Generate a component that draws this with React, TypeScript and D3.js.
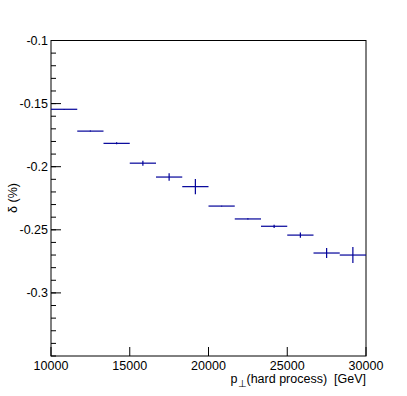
import React from "react";
import * as d3 from "d3";

const binEdgesStart = 10000;
const binWidth = 20000 / 12;
const values = [-0.1545, -0.1718, -0.1815, -0.1972, -0.2082, -0.2158, -0.2312, -0.2414, -0.2472, -0.2542, -0.2684, -0.2700];
const errors = [0.0003, 0.0004, 0.0008, 0.0020, 0.0030, 0.0060, 0.0003, 0.0005, 0.0013, 0.0021, 0.0040, 0.0063];
const xTicks = [10000, 15000, 20000, 25000, 30000];
const yTicks = [-0.1, -0.15, -0.2, -0.25, -0.3];
const yMinorTicks = d3.range(-0.35, -0.0999, 0.01);

const W = 407, H = 396;
const L = 51, R = 366, T = 40.5, B = 356;

export default function App() {
  const x = d3.scaleLinear().domain([10000, 30000]).range([L, R]);
  const y = d3.scaleLinear().domain([-0.35, -0.1]).range([B, T]);
  const font = "'Liberation Sans', Arial, Helvetica, sans-serif";
  const col = "#000099";
  return (
    <svg width={W} height={H} style={{ position: "absolute", left: 0, top: 0, background: "#fff" }}>
      <rect x={0} y={0} width={W} height={H} fill="#fff" />
      {/* frame */}
      <rect x={L} y={T} width={R - L} height={B - T} fill="none" stroke="#000" strokeWidth={1} />
      {/* y minor ticks */}
      {yMinorTicks.map((t, i) => (
        <line key={"ym" + i} x1={L} x2={L + 5} y1={y(t)} y2={y(t)} stroke="#000" strokeWidth={1} />
      ))}
      {yTicks.map((t, i) => (
        <g key={"y" + i}>
          <line x1={L} x2={L + 10} y1={y(t)} y2={y(t)} stroke="#000" strokeWidth={1} />
          <text x={L - 3} y={y(t)} dy="0.35em" textAnchor="end" fontFamily={font} fontSize={12.5}>
            {String(t)}
          </text>
        </g>
      ))}
      {xTicks.map((t, i) => (
        <g key={"x" + i}>
          <line x1={x(t)} x2={x(t)} y1={B} y2={B - 9} stroke="#000" strokeWidth={1} />
          <text x={x(t)} y={B + 14} textAnchor="middle" fontFamily={font} fontSize={12.5}>
            {String(t)}
          </text>
        </g>
      ))}
      {/* data */}
      {values.map((v, i) => {
        const x0 = binEdgesStart + i * binWidth;
        const xc = x0 + binWidth / 2;
        return (
          <g key={"d" + i}>
            <line x1={x(x0)} x2={x(x0 + binWidth)} y1={y(v)} y2={y(v)} stroke={col} strokeWidth={1.2} />
            <line x1={x(xc)} x2={x(xc)} y1={y(v - errors[i])} y2={y(v + errors[i])} stroke={col} strokeWidth={1.2} />
          </g>
        );
      })}
      {/* axis titles */}
      <text x={R} y={B + 27} textAnchor="end" fontFamily={font} fontSize={12.5} style={{ whiteSpace: "pre" }}>
        <tspan>p</tspan>
        <tspan dy={4} fontSize={10}>⊥</tspan>
        <tspan dy={-4}>{"(hard process)  [GeV]"}</tspan>
      </text>
      <text transform={`translate(17, 198) rotate(-90)`} textAnchor="middle" fontFamily={font} fontSize={12.5}>
        δ (%)
      </text>
    </svg>
  );
}
